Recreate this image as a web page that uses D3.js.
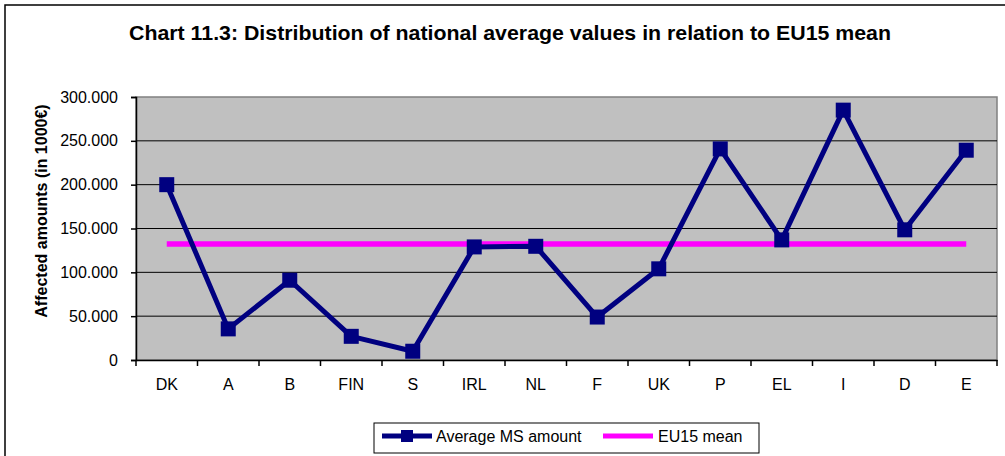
<!DOCTYPE html>
<html>
<head>
<meta charset="utf-8">
<script src="https://cdn.jsdelivr.net/npm/d3@7"></script>
<style>
  body { margin: 0; background: #fff; }
  text { font-family: Arial, "Liberation Sans", sans-serif; }
</style>
</head>
<body>
<div id="chart"></div>
<script>
var width = 1005;
var height = 456;

// data (values in 1000 €)
var countries = ['DK', 'A', 'B', 'FIN', 'S', 'IRL', 'NL', 'F', 'UK', 'P', 'EL', 'I', 'D', 'E'];
var msAmount = [200, 35.5, 91, 27, 10, 129, 129.7, 49, 104, 240.8, 137, 285, 148.5, 239.3];
var eu15Mean = 132.4;
var yTicks = [0, 50, 100, 150, 200, 250, 300];

var plot = { left: 136, right: 997, top: 97, bottom: 360 };

var svg = d3.select('#chart').append('svg')
  .attr('width', width)
  .attr('height', height);

// outer frame
svg.append('rect')
  .attr('x', 5).attr('y', 5)
  .attr('width', 1010).attr('height', 470)
  .attr('fill', 'none')
  .attr('stroke', '#000')
  .attr('stroke-width', 1.5);

svg.append('text')
  .attr('x', 510).attr('y', 40)
  .attr('text-anchor', 'middle')
  .attr('font-size', 21)
  .attr('font-weight', 'bold')
  .attr('textLength', 762)
  .attr('lengthAdjust', 'spacingAndGlyphs')
  .text('Chart 11.3: Distribution of national average values in relation to EU15 mean');

var x = d3.scaleBand()
  .domain(countries)
  .range([plot.left, plot.right]);

var y = d3.scaleLinear()
  .domain([0, 300])
  .range([plot.bottom, plot.top]);

// plot background
svg.append('rect')
  .attr('x', plot.left).attr('y', plot.top)
  .attr('width', plot.right - plot.left)
  .attr('height', plot.bottom - plot.top)
  .attr('fill', '#c0c0c0')
  .attr('stroke', '#808080')
  .attr('stroke-width', 1.5);

// gridlines
svg.append('g')
  .selectAll('line')
  .data(yTicks.filter(function (d) { return d > 0 && d < 300; }))
  .enter()
  .append('line')
  .attr('x1', plot.left).attr('x2', plot.right)
  .attr('y1', function (d) { return y(d); })
  .attr('y2', function (d) { return y(d); })
  .attr('stroke', '#000')
  .attr('stroke-width', 1);

var fmt = function (d) {
  return d === 0 ? '0' : d3.format(',.0f')(d * 1000).replace(/,/g, '.');
};

var yAxis = svg.append('g')
  .attr('transform', 'translate(' + plot.left + ',0)')
  .call(d3.axisLeft(y).tickValues(yTicks).tickFormat(fmt).tickSize(5).tickPadding(13));
yAxis.select('.domain').attr('stroke', '#000').attr('stroke-width', 1.5);
yAxis.selectAll('.tick line').attr('stroke', '#000').attr('stroke-width', 1.5);
yAxis.selectAll('text')
  .attr('font-size', 16)
  .attr('fill', '#000')
  .style('font-family', 'Arial, "Liberation Sans", sans-serif');

var xAxis = svg.append('g')
  .attr('transform', 'translate(0,' + plot.bottom + ')')
  .call(d3.axisBottom(x).tickSize(0).tickPadding(19));
xAxis.select('.domain').attr('stroke', '#000').attr('stroke-width', 1.5);
xAxis.selectAll('text')
  .attr('font-size', 16)
  .attr('fill', '#000')
  .style('font-family', 'Arial, "Liberation Sans", sans-serif');

// category boundary ticks
svg.append('g')
  .selectAll('line')
  .data(countries.concat(['end']))
  .enter()
  .append('line')
  .attr('x1', function (d, i) { return plot.left + i * x.step(); })
  .attr('x2', function (d, i) { return plot.left + i * x.step(); })
  .attr('y1', plot.bottom)
  .attr('y2', plot.bottom + 6)
  .attr('stroke', '#000')
  .attr('stroke-width', 1.5);

svg.append('text')
  .attr('transform', 'translate(47,211) rotate(-90)')
  .attr('text-anchor', 'middle')
  .attr('font-size', 16)
  .attr('font-weight', 'bold')
  .text('Affected amounts (in 1000€)');

var cx = function (d) { return x(d) + x.bandwidth() / 2; };

// EU15 mean line
svg.append('line')
  .attr('x1', cx(countries[0]))
  .attr('x2', cx(countries[countries.length - 1]))
  .attr('y1', y(eu15Mean))
  .attr('y2', y(eu15Mean))
  .attr('stroke', '#ff00ff')
  .attr('stroke-width', 5.5);

var line = d3.line()
  .x(function (d, i) { return cx(countries[i]); })
  .y(function (d) { return y(d); });

svg.append('path')
  .datum(msAmount)
  .attr('d', line)
  .attr('fill', 'none')
  .attr('stroke', '#000080')
  .attr('stroke-width', 5)
  .attr('stroke-linejoin', 'round');

svg.selectAll('.marker')
  .data(msAmount)
  .enter()
  .append('rect')
  .attr('class', 'marker')
  .attr('x', function (d, i) { return cx(countries[i]) - 7.5; })
  .attr('y', function (d) { return y(d) - 7.5; })
  .attr('width', 15)
  .attr('height', 15)
  .attr('fill', '#000080');

// legend
var legend = svg.append('g');
legend.append('rect')
  .attr('x', 374).attr('y', 423)
  .attr('width', 385).attr('height', 30)
  .attr('fill', '#fff')
  .attr('stroke', '#000')
  .attr('stroke-width', 1);

legend.append('line')
  .attr('x1', 382).attr('x2', 432)
  .attr('y1', 436).attr('y2', 436)
  .attr('stroke', '#000080').attr('stroke-width', 5);
legend.append('rect')
  .attr('x', 401).attr('y', 430)
  .attr('width', 12).attr('height', 12)
  .attr('fill', '#000080');
legend.append('text')
  .attr('x', 436).attr('y', 442)
  .attr('font-size', 16)
  .text('Average MS amount');

legend.append('line')
  .attr('x1', 603).attr('x2', 653)
  .attr('y1', 436).attr('y2', 436)
  .attr('stroke', '#ff00ff').attr('stroke-width', 5);
legend.append('text')
  .attr('x', 658).attr('y', 442)
  .attr('font-size', 16)
  .text('EU15 mean');
</script>
</body>
</html>
